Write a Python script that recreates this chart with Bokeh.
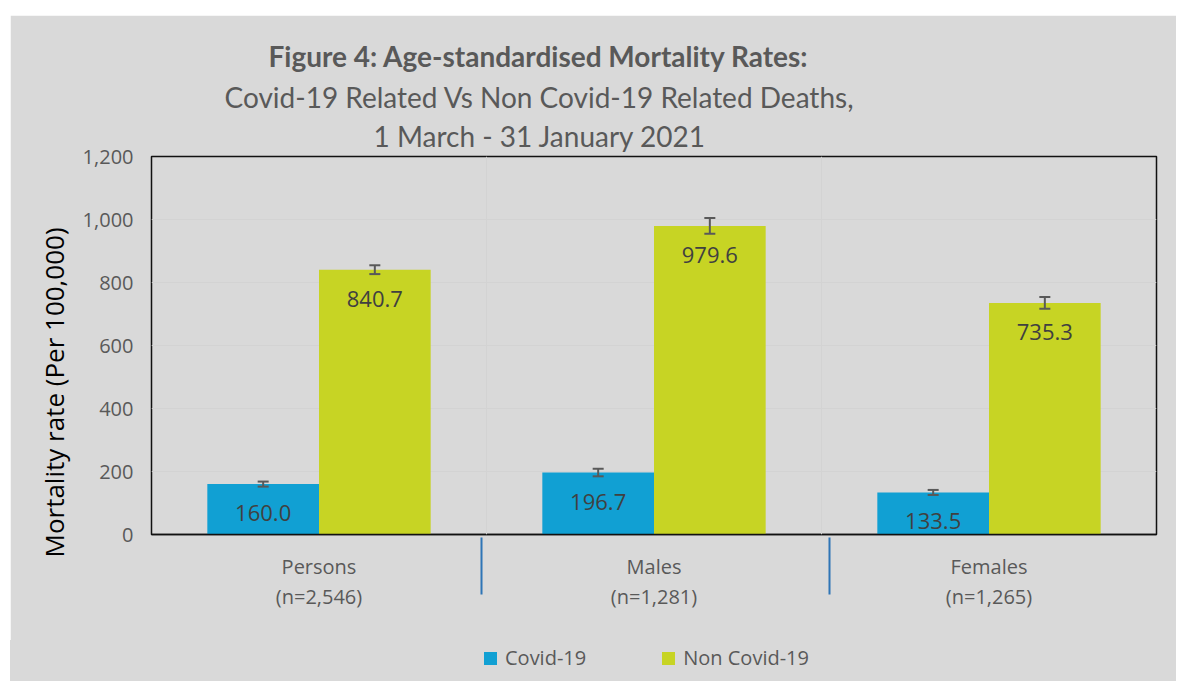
from bokeh.plotting import figure
from bokeh.layouts import column
from bokeh.models import (ColumnDataSource, Range1d, Whisker, TeeHead, Div,
                          Span, NumeralTickFormatter, Title, LinearAxis, FixedTicker)
from bokeh.embed import file_html
from bokeh.resources import INLINE
from bokeh.core.properties import value

# ---- data ----
categories = ["Persons", "Males", "Females"]
sample_sizes = ["(n=2,546)", "(n=1,281)", "(n=1,265)"]
series_names = ["Covid-19", "Non Covid-19"]
covid = [160.0, 196.7, 133.5]
non_covid = [840.7, 979.6, 735.3]
covid_err = [8, 12, 8]
non_covid_err = [14, 25, 19]
y_ticks = [0, 200, 400, 600, 800, 1000, 1200]
separator_pos = [0.985, 2.024]

COVID_COLOR = "#11A0D3"
NON_COLOR = "#C7D424"
BG = "#D9D9D9"
GREY_TXT = "#595959"
series_colors = [COVID_COLOR, NON_COLOR]

centers = [i + 0.5 for i in range(len(categories))]
BAR_W = 1 / 3
src = ColumnDataSource(dict(
    xc=[c - BAR_W / 2 for c in centers],
    xn=[c + BAR_W / 2 for c in centers],
    covid=covid,
    non=non_covid,
    covid_lo=[v - e for v, e in zip(covid, covid_err)],
    covid_hi=[v + e for v, e in zip(covid, covid_err)],
    non_lo=[v - e for v, e in zip(non_covid, non_covid_err)],
    non_hi=[v + e for v, e in zip(non_covid, non_covid_err)],
    covid_lbl=[f"{v:.1f}" for v in covid],
    non_lbl=[f"{v:.1f}" for v in non_covid],
))

p = figure(x_range=Range1d(0, len(categories)), y_range=(0, 1200),
           width=1166, height=625, output_backend="svg", toolbar_location=None,
           x_axis_location=None,
           min_border_left=141, min_border_right=20, min_border_top=141,
           min_border_bottom=106)
p.margin = (15, 0, 0, 10)
p.background_fill_color = BG
p.border_fill_color = BG
p.outline_line_color = "#111111"
p.outline_line_width = 1.5

p.vbar(x="xc", top="covid", width=BAR_W, source=src,
       fill_color=COVID_COLOR, line_color=None)
p.vbar(x="xn", top="non", width=BAR_W, source=src,
       fill_color=NON_COLOR, line_color=None)

for xcol, lo, hi in [("xc", "covid_lo", "covid_hi"), ("xn", "non_lo", "non_hi")]:
    w = Whisker(base=xcol, lower=lo, upper=hi, source=src,
                line_color=GREY_TXT, line_width=2, level="annotation",
                upper_head=TeeHead(size=11, line_color=GREY_TXT, line_width=2),
                lower_head=TeeHead(size=11, line_color=GREY_TXT, line_width=2))
    p.add_layout(w)

for xcol, ycol, tcol in [("xc", "covid", "covid_lbl"), ("xn", "non", "non_lbl")]:
    p.text(x=xcol, y=ycol, text=tcol, source=src,
           text_align="center", text_baseline="middle", y_offset=29,
           text_font=value("Open Sans"), text_font_size="22px", text_color="#404040")

# y axis
p.yaxis.ticker = y_ticks
p.yaxis.formatter = NumeralTickFormatter(format="0,0")
p.yaxis.axis_line_color = None
p.yaxis.major_tick_line_color = None
p.yaxis.minor_tick_line_color = None
p.yaxis.major_tick_out = 0
p.yaxis.major_label_standoff = 18
p.yaxis.major_label_text_font = "Open Sans"
p.yaxis.major_label_text_font_size = "20px"
p.yaxis.major_label_text_color = GREY_TXT

# x axes: category names (with the black baseline), then sample sizes with separators
ax1 = LinearAxis(ticker=FixedTicker(ticks=centers),
                 major_label_overrides={c: t for c, t in zip(centers, categories)},
                 axis_line_color="#111111", axis_line_width=1.5,
                 major_tick_line_color=None, minor_tick_line_color=None,
                 major_tick_out=0, major_tick_in=0, minor_tick_out=0, minor_tick_in=0,
                 major_label_standoff=18, major_label_text_font="Open Sans",
                 major_label_text_font_size="20px", major_label_text_color=GREY_TXT)
p.add_layout(ax1, "below")

ax2 = LinearAxis(ticker=FixedTicker(ticks=centers, minor_ticks=separator_pos),
                 major_label_overrides={c: t for c, t in zip(centers, sample_sizes)},
                 axis_line_color=None, major_tick_line_color=None,
                 major_tick_out=0, major_tick_in=0,
                 minor_tick_in=45, minor_tick_out=12,
                 minor_tick_line_color="#2E75B6", minor_tick_line_width=2,
                 major_label_standoff=-12, major_label_text_font="Open Sans",
                 major_label_text_font_size="20px", major_label_text_color=GREY_TXT)
p.add_layout(ax2, "below")

p.ygrid.grid_line_color = "#D3D3D3"
for g in p.xgrid:
    g.grid_line_color = None
for loc in [1, 2]:
    p.add_layout(Span(location=loc, dimension="height", line_color="#D3D3D3", line_width=1))

# titles (added closest-to-plot first)
title_lines = [
    ("1 March  - 31 January 2021", "normal", 7, 222),
    ("Covid-19 Related Vs Non Covid-19 Related Deaths,", "normal", 0, 73),
    ("Figure 4: Age-standardised Mortality Rates:", "bold", 9, 117),
]
for txt, style, so, offx in title_lines:
    p.add_layout(Title(text=txt, align="left", offset=offx, standoff=so,
                       text_font="Lato", text_font_style=style,
                       text_font_size="28px", text_color=GREY_TXT), "above")

p.add_layout(Title(text="Mortality rate (Per 100,000)", align="left", offset=-23,
                   standoff=15, text_font="Open Sans", text_font_style="normal",
                   text_font_size="26px", text_color="#000000"), "left")

# legend row (HTML) below the chart
items_html = ""
for i, (name, col) in enumerate(zip(series_names, series_colors)):
    ml = 0 if i == 0 else 76
    items_html += (f'<span style="display:inline-block;width:13px;height:13px;'
                   f'background:{col};margin-left:{ml}px;margin-right:8px;"></span>'
                   f'<span>{name}</span>')
legend_div = Div(
    text=(f'<div style="display:flex;align-items:center;box-sizing:border-box;'
          f'width:1166px;height:41px;padding-left:474px;padding-bottom:4px;'
          f'background:{BG};font-family:\'Open Sans\';font-size:20px;'
          f'color:{GREY_TXT};white-space:nowrap;">{items_html}</div>'),
    width=1166, height=41, margin=(0, 0, 0, 10),
    styles={"background-color": BG})

layout = column(p, legend_div, spacing=0)
open("out.html", "w").write(file_html(layout, INLINE))
